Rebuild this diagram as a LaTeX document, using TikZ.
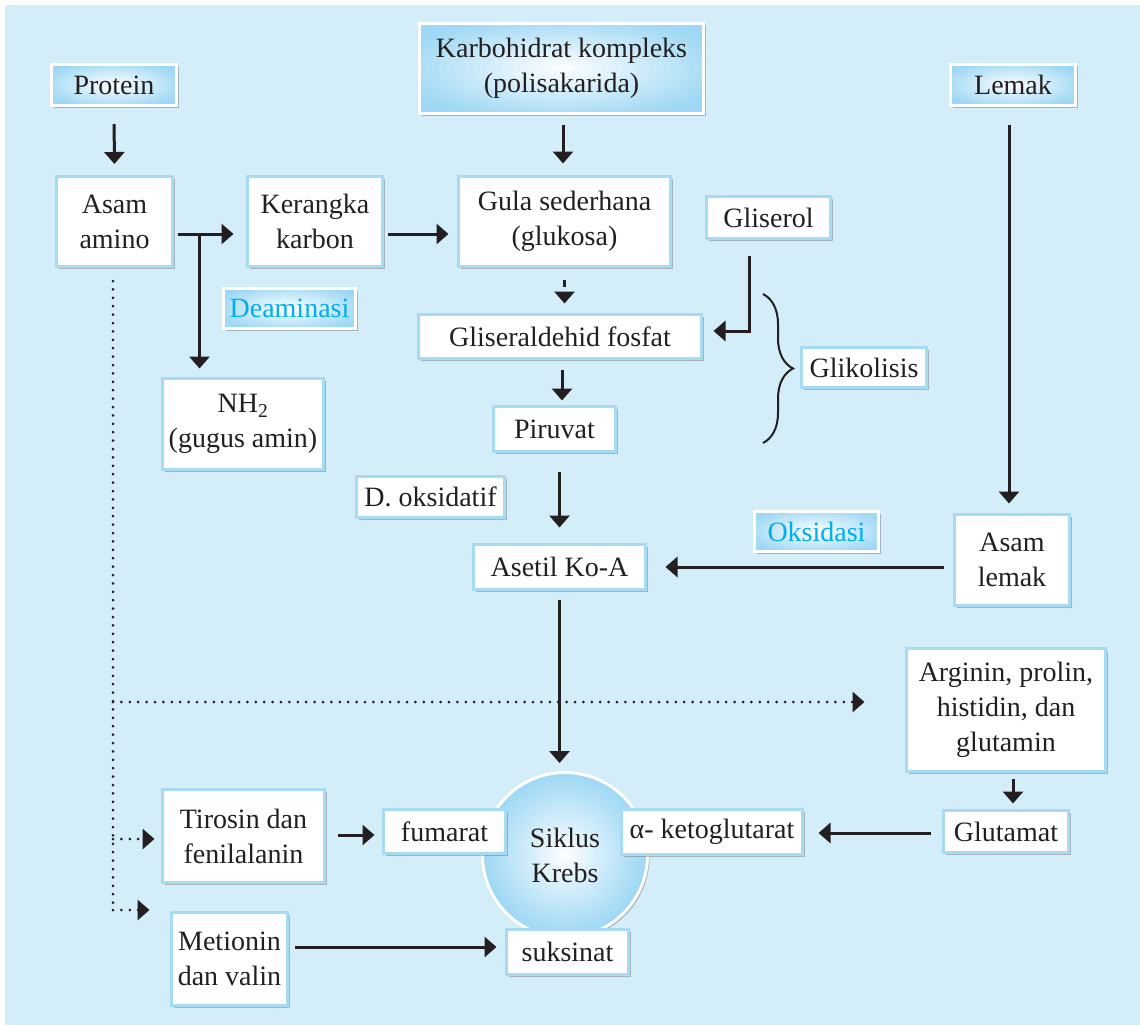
\documentclass[tikz,border=0pt]{standalone}
\usepackage{fontspec}
\setmainfont{Liberation Serif}
\usetikzlibrary{arrows.meta,shadows,calc,decorations.pathreplacing}
\definecolor{bg}{HTML}{D3EDF9}
\definecolor{boxblue}{HTML}{A6DBF3}
\definecolor{gradblue}{HTML}{9ED8F4}
\definecolor{txt}{HTML}{231F20}
\definecolor{cyantxt}{HTML}{00AEEF}
\newcommand\myfs{\fontsize{28pt}{35pt}\selectfont}
% gradient background of a box: #1 cx, #2 cy, #3 w, #4 h
\newcommand\gradrect[4]{%
  \fill[black!70, opacity=0.35] ({#1-#3/2+2},{#2-#4/2+2}) rectangle ({#1+#3/2+2},{#2+#4/2+2});
  \begin{scope}
    \clip ({#1-#3/2},{#2-#4/2}) rectangle ({#1+#3/2},{#2+#4/2});
    \fill[gradblue] ({#1-#3/2},{#2-#4/2}) rectangle ({#1+#3/2},{#2+#4/2});
    \foreach \k in {0,...,24}{%
      \pgfmathtruncatemacro\pc{100-4*\k}%
      \pgfmathsetmacro\fr{1.2*(1-\k/25)}%
      \fill[gradblue!\pc!white] (#1,#2) ellipse [x radius={\fr*#3/2*1pt}, y radius={\fr*#4/2*1pt}];
    }
  \end{scope}}
% gradient disc: #1 cx, #2 cy, #3 r
\newcommand\graddisc[3]{%
  \fill[black!70, opacity=0.35] ({#1+2},{#2+2}) circle [radius={#3*1pt}];
  \foreach \k in {0,...,24}{%
    \pgfmathtruncatemacro\pc{100-4*\k}%
    \pgfmathsetmacro\fr{(1-\k/25)}%
    \fill[gradblue!\pc!white] (#1,#2) circle [radius={\fr*#3*1pt}];
  }}
\begin{document}
\begin{tikzpicture}[x=1pt,y=-1pt,
 shd/.style={drop shadow={shadow xshift=2pt,shadow yshift=-2pt,fill=black!70,opacity=0.35}},
 box/.style={shd, draw=boxblue, line width=3pt, fill=white, inner sep=0pt, align=center, font=\myfs, text=txt},
 gbox/.style={draw=white, line width=3pt, inner sep=0pt, align=center, font=\myfs, text=txt},
 krebsnode/.style={circle, draw=white, line width=3pt, minimum size=165pt, inner sep=0pt, align=center, font=\myfs, text=txt},
 arr/.style={line width=3pt, draw=txt, -{Triangle[width=20pt,length=12pt]}},
 dotl/.style={line width=3pt, draw=txt, line cap=round, dash pattern=on 0pt off 8.4pt},
 brc/.style={decorate, decoration={brace, amplitude=30pt}, line width=2pt, draw=txt},
]
\useasboundingbox (0,0) rectangle (1140,1025);
\fill[white] (0,0) rectangle (1140,1025);
\fill[bg] (5,5) rectangle (1140,1025);

% nodes
\gradrect{114}{85}{125}{41}
\node[gbox, minimum width=125pt, minimum height=41pt] (protein) at (114,85) {Protein};
\node[box, minimum width=116pt, minimum height=90pt] (aa) at (114.5,221.5) {Asam\\amino};
\node[box, minimum width=135pt, minimum height=90pt] (kk) at (315,221.5) {Kerangka\\karbon};
\gradrect{561.5}{68.5}{284}{90}
\node[gbox, minimum width=284pt, minimum height=90pt] (karbo) at (561.5,68.5) {Karbohidrat kompleks\\(polisakarida)};
\node[box, minimum width=212pt, minimum height=90pt] (gula) at (564.5,221.5) {Gula sederhana\\(glukosa)};
\node[box, minimum width=124pt, minimum height=42pt] (glis) at (768.5,217.5) {Gliserol};
\gradrect{289.5}{308.5}{132}{40}
\node[gbox, minimum width=132pt, minimum height=40pt, text=cyantxt] (deam) at (289.5,308.5) {Deaminasi};
\node[box, minimum width=161pt, minimum height=91pt] (nh) at (243,424) {NH\textsubscript{2}\\(gugus amin)};
\node[box, minimum width=283pt, minimum height=44pt] (gf) at (560,336.5) {Gliseraldehid fosfat};
\node[box, minimum width=122pt, minimum height=45pt] (pir) at (554.5,429) {Piruvat};
\node[box, minimum width=125pt, minimum height=40pt] (glik) at (864,367.5) {Glikolisis};
\node[box, minimum width=148pt, minimum height=41pt] (dok) at (430.5,497) {D. oksidatif};
\node[box, minimum width=172pt, minimum height=45pt] (aset) at (559.5,567) {Asetil Ko-A};
\gradrect{816.5}{531.5}{124}{40}
\node[gbox, minimum width=124pt, minimum height=40pt, text=cyantxt] (oks) at (816.5,531.5) {Oksidasi};
\gradrect{1013}{85}{125}{41}
\node[gbox, minimum width=125pt, minimum height=41pt] (lemak) at (1013,85) {Lemak};
\node[box, minimum width=115pt, minimum height=91pt] (al) at (1012,560) {Asam\\lemak};
\node[box, minimum width=199pt, minimum height=123pt] (arg) at (1006,710) {Arginin, prolin,\\histidin, dan\\glutamin};
\node[box, minimum width=125pt, minimum height=42pt] (glu) at (1006,831.5) {Glutamat};
\graddisc{565}{855}{82.5}
\node[krebsnode] (krebs) at (565,855) {Siklus\\Krebs};
\node[box, minimum width=122pt, minimum height=44pt] (fum) at (444.5,831.5) {fumarat};
\node[box, minimum width=181pt, minimum height=45pt] (akg) at (712,832) {α- ketoglutarat};
\node[box, minimum width=122pt, minimum height=45pt] (suk) at (567.5,952) {suksinat};
\node[box, minimum width=162pt, minimum height=93pt] (tir) at (243.5,836) {Tirosin dan\\fenilalanin};
\node[box, minimum width=116pt, minimum height=93pt] (met) at (229.5,959) {Metionin\\dan valin};

% connectors
\draw[arr, shorten <=17pt, shorten >=11pt] (protein.south) -- (aa.north);
\draw[arr, shorten <=3.5pt, shorten >=12.5pt] ($(aa.east)+(0,12.5)$) -- ($(kk.west)+(0,12.5)$);
\coordinate (br) at ($(aa.east)+(25.5,12.5)$);
\draw[arr, shorten >=8.5pt] (br) -- (br |- nh.north);
\draw[arr, shorten <=3.5pt, shorten >=8.5pt] ($(kk.east)+(0,12.5)$) -- ($(gula.west)+(0,12.5)$);
\draw[arr, shorten <=9.5pt, shorten >=11.5pt] ($(karbo.south)+(1.5,0)$) -- ($(gula.north)+(-1.5,0)$);
\draw[arr, dash pattern=on 7pt off 5pt, shorten <=11.5pt, shorten >=9.5pt] (gula.south) -- (gula.south |- gf.north);
\draw[arr, shorten >=10.5pt] ($(glis.south)+(-19.5,16)$) |- ($(gf.east)+(0,-5.5)$);
\draw[arr, shorten <=9.5pt, shorten >=4.5pt] ($(gf.south)+(2,0)$) -- ($(pir.north)+(7.5,0)$);
\draw[arr, shorten <=18.5pt, shorten >=15.5pt] ($(pir.south)+(5,0)$) -- (aset.north);
\draw[arr, shorten <=17.5pt, shorten >=9.5pt] ($(lemak.south)+(-4,0)$) -- ($(al.north)+(-3,0)$);
\draw[arr, shorten <=9.5pt, shorten >=18.5pt] (al.west |- aset.east) -- (aset.east);
\draw[arr, shorten <=8.5pt, shorten >=8pt] (aset.south) -- (aset.south |- krebs.north);
\draw[brc] (763,294) -- (763,443);

% dotted paths
\coordinate (d0) at ($(aa.south)+(-1.5,13)$);
\coordinate (d1) at (113,702);
\coordinate (d2) at (113,839);
\coordinate (d3) at (113,910);
\draw[dotl] (d0) -- (d3);
\draw[dotl, -{Triangle[width=20pt,length=12pt]}, shorten >=40.5pt] (d1) -- (arg.west |- d1);
\draw[dotl, -{Triangle[width=20pt,length=12pt]}, shorten >=6.5pt] (d2) -- (tir.west |- d2);
\draw[dotl, -{Triangle[width=20pt,length=12pt]}, shorten >=20.5pt] (d3) -- (met.west |- d3);

\draw[arr, shorten <=12pt, shorten >=7.5pt] ($(tir.east)+(0,-1)$) -- ($(fum.west)+(0,3.5)$);
\draw[arr, shorten <=5.5pt, shorten >=8.5pt] ($(met.east)+(0,-12)$) -- ($(suk.west)+(0,-5)$);
\draw[arr, shorten <=5.5pt, shorten >=5.5pt] ($(arg.south)+(7,0)$) -- ($(glu.north)+(7,0)$);
\draw[arr, shorten <=11.5pt, shorten >=14.5pt] ($(glu.west)+(0,1.5)$) -- ($(akg.east)+(0,1)$);
\end{tikzpicture}
\end{document}
